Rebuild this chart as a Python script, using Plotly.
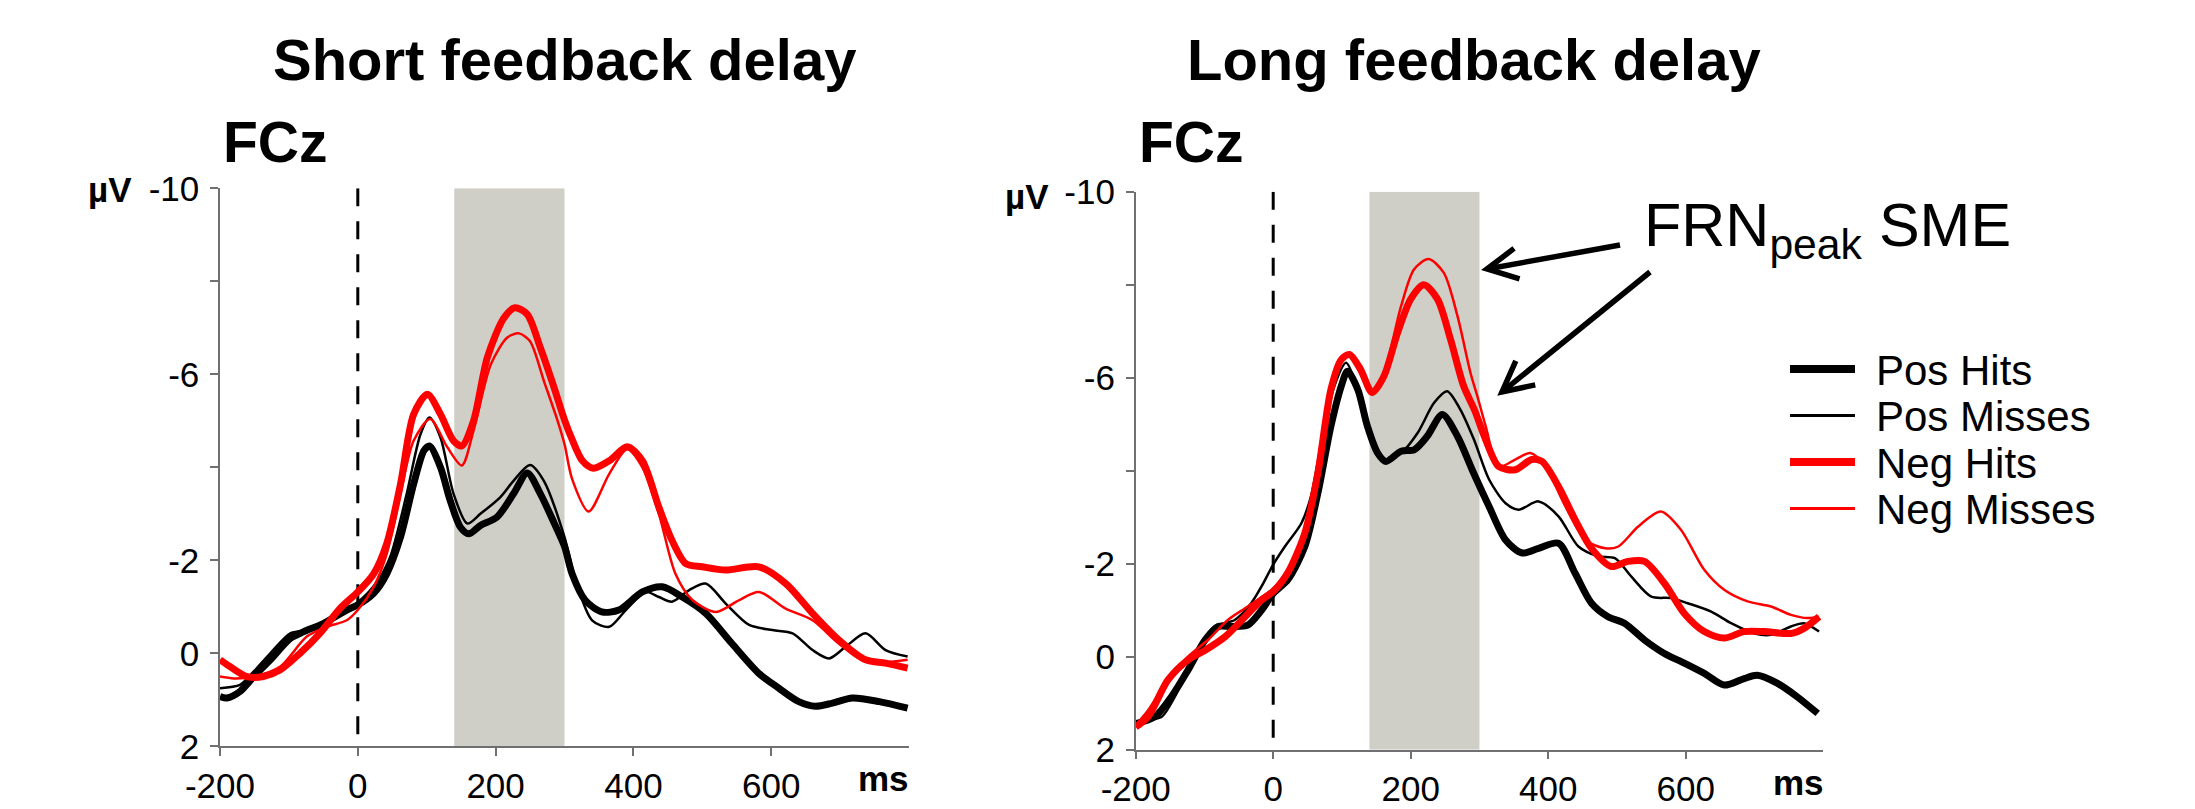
import math
import plotly.graph_objects as go

# ---------------- data ----------------
series_names = ["Pos Hits", "Pos Misses", "Neg Hits", "Neg Misses"]

# Short feedback delay (left panel)
short_pos_hits_t = [-200, -190, -171, -151, -127, -98, -79, -50, -16, 0, 23, 42, 62, 81, 96, 104, 120, 134, 149, 161,
                    178, 202, 226, 246, 265, 285, 300, 311, 330, 354, 379, 413, 442, 471, 505, 543, 582, 611, 640,
                    664, 689, 718, 757, 798]
short_pos_hits_v = [0.93, 0.96, 0.82, 0.5, 0.14, -0.32, -0.46, -0.64, -0.93, -1.04, -1.29, -1.71, -2.5, -3.64, -4.36,
                    -4.46, -4.0, -3.29, -2.71, -2.57, -2.75, -2.93, -3.43, -3.88, -3.43, -2.8, -2.3, -1.71, -1.14,
                    -0.89, -0.93, -1.32, -1.43, -1.21, -0.86, -0.21, 0.43, 0.75, 1.04, 1.14, 1.07, 0.96, 1.04, 1.18]

short_pos_misses_t = [-200, -171, -151, -127, -98, -74, -45, 0, 28, 47, 71, 91, 104, 120, 139, 159, 178, 207, 226,
                      250, 270, 300, 316, 340, 365, 389, 418, 437, 456, 481, 505, 534, 568, 602, 631, 660, 684, 708,
                      737, 766, 798]
short_pos_misses_v = [0.75, 0.68, 0.39, 0.0, -0.43, -0.5, -0.68, -1.1, -1.54, -2.07, -3.43, -4.71, -5.07, -4.64,
                      -3.43, -2.79, -3.0, -3.36, -3.71, -4.05, -3.71, -2.5, -1.57, -0.71, -0.57, -0.93, -1.32, -1.21,
                      -1.11, -1.36, -1.5, -1.07, -0.61, -0.5, -0.43, -0.07, 0.11, -0.14, -0.43, -0.07, 0.07]

short_neg_hits_t = [-200, -185, -161, -137, -113, -84, -55, -26, 0, 23, 42, 62, 81, 101, 120, 139, 151, 168, 188, 212,
                    228, 246, 265, 285, 300, 311, 326, 342, 365, 391, 413, 437, 456, 476, 500, 534, 582, 621, 660,
                    698, 737, 766, 798]
short_neg_hits_v = [0.14, 0.29, 0.5, 0.5, 0.36, 0.0, -0.43, -0.96, -1.32, -1.71, -2.36, -3.64, -5.14, -5.57, -5.14,
                    -4.57, -4.46, -5.0, -6.36, -7.21, -7.43, -7.29, -6.57, -5.71, -5.02, -4.6, -4.14, -3.98, -4.14,
                    -4.44, -4.14, -3.14, -2.43, -1.93, -1.86, -1.79, -1.86, -1.5, -0.86, -0.29, 0.14, 0.21, 0.32]

short_neg_misses_t = [-200, -180, -151, -113, -74, -45, -16, 0, 23, 42, 62, 81, 105, 130, 151, 168, 193, 217, 234,
                      250, 270, 290, 300, 311, 335, 365, 391, 413, 437, 461, 486, 520, 553, 582, 621, 660, 698, 737,
                      798]
short_neg_misses_v = [0.5, 0.54, 0.5, 0.29, -0.36, -0.57, -0.71, -0.93, -1.43, -2.14, -3.43, -4.57, -5.04, -4.43,
                      -4.04, -4.79, -6.21, -6.79, -6.88, -6.71, -5.86, -5.0, -4.5, -3.75, -3.05, -3.86, -4.39, -4.0,
                      -3.0, -1.71, -1.14, -0.89, -1.14, -1.32, -0.96, -0.71, -0.21, 0.18, 0.14]

# Long feedback delay (right panel)
long_pos_hits_t = [-200, -172, -148, -124, -99, -80, -61, -37, -17, 0, 21, 46, 65, 84, 99, 108, 123, 137, 152, 164,
                   186, 205, 224, 246, 268, 290, 314, 338, 362, 386, 415, 439, 463, 487, 511, 540, 569, 598, 627,
                   656, 685, 704, 733, 762, 792]
long_pos_hits_v = [1.44, 1.29, 0.86, 0.29, -0.36, -0.65, -0.65, -0.68, -1.0, -1.36, -1.65, -2.37, -3.52, -4.96,
                   -5.82, -6.14, -5.75, -4.96, -4.38, -4.2, -4.42, -4.45, -4.74, -5.21, -4.74, -4.0, -3.23, -2.51,
                   -2.23, -2.33, -2.44, -1.8, -1.15, -0.86, -0.72, -0.36, -0.07, 0.14, 0.36, 0.61, 0.47, 0.4, 0.57,
                   0.86, 1.22]

long_pos_misses_t = [-200, -182, -162, -143, -114, -85, -56, -32, -17, 0, 17, 41, 55, 70, 89, 106, 123, 137, 161,
                     186, 210, 234, 253, 272, 292, 314, 338, 357, 386, 415, 444, 473, 497, 521, 550, 579, 603, 637,
                     666, 700, 724, 753, 772, 794]
long_pos_misses_v = [1.44, 1.36, 1.29, 0.86, -0.07, -0.65, -0.79, -1.15, -1.51, -1.98, -2.37, -2.87, -3.45, -4.6,
                     -5.82, -6.32, -5.75, -4.96, -4.24, -4.38, -4.81, -5.46, -5.71, -5.32, -4.67, -3.81, -3.3, -3.16,
                     -3.34, -3.02, -2.37, -2.16, -2.12, -1.72, -1.29, -1.26, -1.15, -0.97, -0.72, -0.5, -0.47, -0.65,
                     -0.72, -0.54]

long_neg_hits_t = [-200, -182, -153, -124, -99, -70, -41, -17, 0, 21, 46, 65, 84, 99, 111, 127, 144, 161, 181, 200,
                   219, 239, 258, 277, 293, 309, 328, 352, 376, 391, 415, 439, 463, 492, 516, 540, 569, 598, 627,
                   656, 685, 714, 753, 772, 794]
long_neg_hits_v = [1.51, 1.29, 0.5, 0.07, -0.14, -0.43, -0.86, -1.22, -1.4, -1.8, -2.66, -3.95, -5.75, -6.39, -6.5,
                   -6.18, -5.68, -6.03, -6.97, -7.69, -8.0, -7.69, -6.82, -5.82, -5.3, -4.67, -4.09, -4.02, -4.24,
                   -4.2, -3.66, -2.95, -2.33, -1.94, -2.05, -2.05, -1.58, -0.93, -0.54, -0.4, -0.54, -0.54, -0.5,
                   -0.61, -0.86]

long_neg_misses_t = [-200, -182, -153, -124, -95, -66, -37, 0, 21, 46, 65, 84, 103, 113, 127, 144, 161, 186, 205,
                     226, 248, 268, 287, 297, 309, 328, 352, 374, 396, 425, 454, 483, 502, 531, 564, 593, 627, 656,
                     690, 724, 753, 777, 794]
long_neg_misses_v = [1.47, 1.15, 0.5, 0.0, -0.36, -0.79, -1.08, -1.47, -1.87, -2.66, -3.95, -5.75, -6.43, -6.47,
                     -6.1, -5.71, -6.1, -7.54, -8.33, -8.55, -8.26, -7.33, -6.1, -5.6, -4.96, -4.09, -4.24, -4.38,
                     -4.09, -3.23, -2.51, -2.33, -2.37, -2.8, -3.12, -2.73, -1.87, -1.44, -1.19, -1.08, -0.9, -0.83,
                     -0.86]

panel_titles = ["Short feedback delay", "Long feedback delay"]
electrode = "FCz"
x_tick_vals = [-200, 0, 200, 400, 600]
x_tick_text = ["-200", "0", "200", "400", "600"]
y_tick_vals = [-10, -6, -2, 0, 2]
y_tick_text = ["-10", "-6", "-2", "0", "2"]
y_minor_vals = [-8, -4]
window_ms = [140, 300]
annotation_text = "FRN<sub>peak</sub> SME"

# ---------------- styling ----------------
# The page body has an 8px margin; the figure fills the rest of the window and
# all screen positions below are given in window pixels (shifted by 8).
OFF = 8
W, H = 2195 - OFF, 809 - OFF
FONT = "Liberation Sans, Arial, Helvetica, sans-serif"
colors = {"Pos Hits": "#000000", "Pos Misses": "#000000", "Neg Hits": "#ff0000", "Neg Misses": "#ff0000"}
widths = {"Pos Hits": 7, "Pos Misses": 2.5, "Neg Hits": 7, "Neg Misses": 2.5}
AXC = "#707070"


def pxx(x):
    return (x - OFF) / W


def pyy(y):
    return 1 - (y - OFF) / H


panels = [
    ("x", "y", {"Pos Hits": (short_pos_hits_t, short_pos_hits_v),
                "Pos Misses": (short_pos_misses_t, short_pos_misses_v),
                "Neg Hits": (short_neg_hits_t, short_neg_hits_v),
                "Neg Misses": (short_neg_misses_t, short_neg_misses_v)}),
    ("x2", "y2", {"Pos Hits": (long_pos_hits_t, long_pos_hits_v),
                  "Pos Misses": (long_pos_misses_t, long_pos_misses_v),
                  "Neg Hits": (long_neg_hits_t, long_neg_hits_v),
                  "Neg Misses": (long_neg_misses_t, long_neg_misses_v)}),
]

fig = go.Figure()
for xa, ya, data in panels:
    for name in series_names:
        t, v = data[name]
        fig.add_trace(go.Scatter(
            x=t, y=v, mode="lines", name=name, xaxis=xa, yaxis=ya, showlegend=False,
            line=dict(color=colors[name], width=widths[name], shape="spline", smoothing=0.8),
        ))

shapes = []
for xa, ya, _ in panels:
    shapes.append(dict(type="rect", xref=xa, yref=ya, x0=window_ms[0], x1=window_ms[1], y0=-10, y1=2,
                       fillcolor="#cfcfc7", line=dict(width=0), layer="below"))
    shapes.append(dict(type="line", xref=xa, yref=ya, x0=0, x1=0, y0=-10, y1=2,
                       line=dict(color="black", width=3, dash="18px,15px"), layer="below"))

# legend drawn manually (sample lines + labels)
legend_rows = [369, 415.5, 462, 508.5]
annotations = []
for name, yr in zip(series_names, legend_rows):
    shapes.append(dict(type="line", xref="paper", yref="paper", x0=pxx(1790), x1=pxx(1855), y0=pyy(yr), y1=pyy(yr),
                       line=dict(color=colors[name], width=8 if widths[name] > 5 else 3)))
    annotations.append(dict(text=name, x=pxx(1874), y=pyy(yr + 1), xref="paper", yref="paper", xanchor="left",
                            yanchor="middle", showarrow=False, font=dict(family=FONT, size=42, color="black")))


# arrows (open V heads)
def arrow(tip, tail, arm=34, ang=27):
    dx, dy = tail[0] - tip[0], tail[1] - tip[1]
    base = math.atan2(dy, dx)
    pts = []
    for s in (1, -1):
        a = base + s * math.radians(ang)
        pts.append((tip[0] + arm * math.cos(a), tip[1] + arm * math.sin(a)))
    shaft = "M{},{} L{},{}".format(pxx(tail[0]), pyy(tail[1]), pxx(tip[0] + 3 * math.cos(base)),
                                   pyy(tip[1] + 3 * math.sin(base)))
    head = "M{},{} L{},{} L{},{}".format(pxx(pts[0][0]), pyy(pts[0][1]), pxx(tip[0]), pyy(tip[1]),
                                         pxx(pts[1][0]), pyy(pts[1][1]))
    return [dict(type="path", xref="paper", yref="paper", path=shaft, line=dict(color="black", width=5.5)),
            dict(type="path", xref="paper", yref="paper", path=head, line=dict(color="black", width=5.5))]


shapes += arrow((1487, 269), (1620, 245))
shapes += arrow((1502, 392), (1650, 272))

# titles / labels
title_pos = [(564, 59), (1474, 59)]
fcz_pos = [(221, 142), (1137, 142)]
uv_pos = [(86, 189), (1003, 196)]
ms_pos = [(856, 778), (1771, 782)]
for i in range(2):
    annotations.append(dict(text="<b>%s</b>" % panel_titles[i], x=pxx(title_pos[i][0]), y=pyy(title_pos[i][1]),
                            xref="paper", yref="paper", xanchor="center", yanchor="middle", showarrow=False,
                            font=dict(family=FONT, size=58, color="black")))
    annotations.append(dict(text="<b>%s</b>" % electrode, x=pxx(fcz_pos[i][0]), y=pyy(fcz_pos[i][1]),
                            xref="paper", yref="paper", xanchor="left", yanchor="middle", showarrow=False,
                            font=dict(family=FONT, size=57, color="black")))
    annotations.append(dict(text="<b>µV</b>", x=pxx(uv_pos[i][0]), y=pyy(uv_pos[i][1]),
                            xref="paper", yref="paper", xanchor="left", yanchor="middle", showarrow=False,
                            font=dict(family=FONT, size=35, color="black")))
    annotations.append(dict(text="<b>ms</b>", x=pxx(ms_pos[i][0]), y=pyy(ms_pos[i][1]),
                            xref="paper", yref="paper", xanchor="left", yanchor="middle", showarrow=False,
                            font=dict(family=FONT, size=35, color="black")))

annotations.append(dict(text=annotation_text, x=pxx(1642), y=pyy(229), xref="paper", yref="paper",
                        xanchor="left", yanchor="middle", showarrow=False,
                        font=dict(family=FONT, size=61, color="black")))

common_x = dict(range=[-200, 800], showline=True, linecolor=AXC, linewidth=1.5, ticks="outside", ticklen=8,
                tickcolor=AXC, tickwidth=1.5, tickvals=x_tick_vals, ticktext=x_tick_text, showgrid=False,
                zeroline=False, tickfont=dict(family=FONT, size=35, color="black"), fixedrange=True,
                automargin=False)
common_y = dict(range=[2, -10], showline=True, linecolor=AXC, linewidth=1.5, ticks="outside", ticklen=8,
                tickcolor=AXC, tickwidth=1.5, tickvals=y_tick_vals, ticktext=y_tick_text, showgrid=False,
                zeroline=False, tickfont=dict(family=FONT, size=35, color="black"), fixedrange=True,
                ticklabelstandoff=4, automargin=False,
                minor=dict(tickvals=y_minor_vals, ticks="outside", ticklen=8, tickcolor=AXC, tickwidth=1.5,
                           showgrid=False))

fig.update_layout(
    width=W, height=H, margin=dict(l=0, r=0, t=0, b=0, pad=0, autoexpand=False),
    paper_bgcolor="white", plot_bgcolor="rgba(0,0,0,0)",
    xaxis=dict(domain=[pxx(220), pxx(909)], anchor="y", **common_x),
    yaxis=dict(domain=[pyy(746.3), pyy(188.3)], anchor="x", **common_y),
    xaxis2=dict(domain=[pxx(1135.7), pxx(1823.2)], anchor="y2", **common_x),
    yaxis2=dict(domain=[pyy(749.7), pyy(191.7)], anchor="x2", **common_y),
    shapes=shapes, annotations=annotations, showlegend=False,
    font=dict(family=FONT),
)

fig.write_html("out.html")
